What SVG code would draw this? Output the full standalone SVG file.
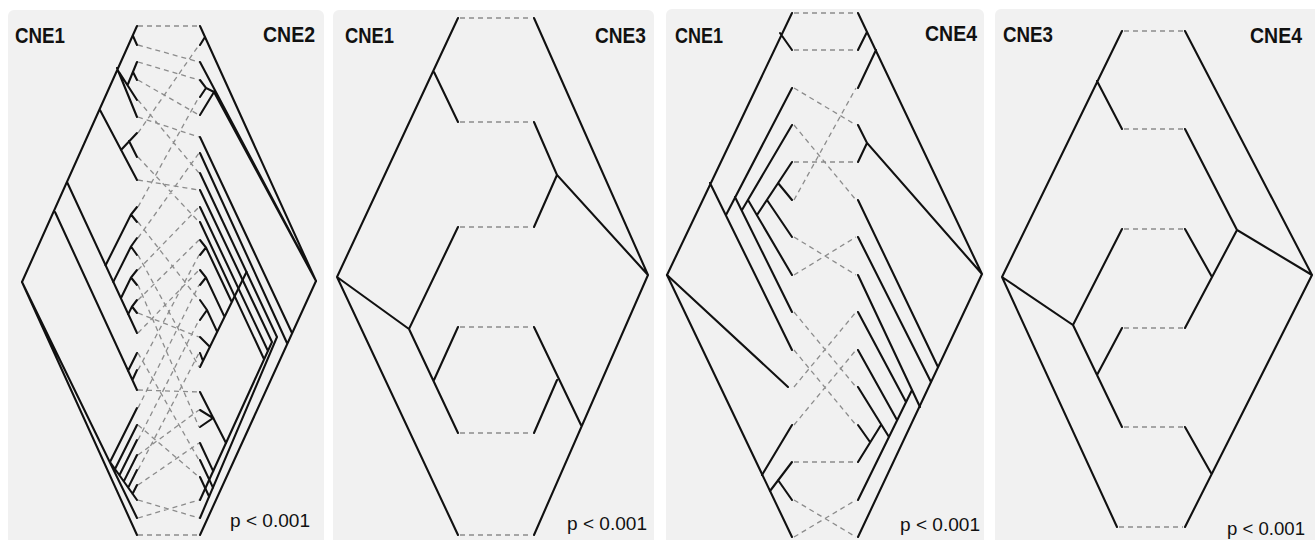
<svg xmlns="http://www.w3.org/2000/svg" width="1315" height="540" viewBox="0 0 1315 540">
<style>
.bg{fill:#f1f1f1}
.br{stroke:#111;stroke-width:2.1;fill:none;stroke-linecap:round}
.cn{stroke:#8c8c8c;stroke-width:1.3;stroke-dasharray:5 4;fill:none}
.lab{font-family:"Liberation Sans",Arial,sans-serif;font-weight:bold;font-size:22px;fill:#111}
.p{font-family:"Liberation Sans",Arial,sans-serif;font-size:18px;fill:#111}
</style>
<rect width="1315" height="540" fill="#fff"/>
<g id="panel1">
<rect class="bg" x="8" y="10" width="316" height="540" rx="6"/>
<text class="lab" x="15" y="43" textLength="50" lengthAdjust="spacingAndGlyphs">CNE1</text>
<text class="lab" x="263" y="42" textLength="52" lengthAdjust="spacingAndGlyphs">CNE2</text>
<text class="p" x="230" y="527" textLength="80" lengthAdjust="spacingAndGlyphs">p &lt; 0.001</text>
<g class="br">
<path d="M22,282 L137,26 M133,36 L137,45 M117,68 L137,117 M119,72 L137,100 M128,84 L137,62 M133,72 L137,80 M100,110 L137,180 M121,150 L137,133 M129,141 L137,157 M67,182 L137,333"/>
<path d="M105.6,265.3 L131,214.5 L137,207 M131,214.5 L137,222 M113.3,281.9 L131,246.5 L137,238 M131,246.5 L137,255 M121,298 L131,277.5 L137,270 M131,277.5 L137,285 M128.2,314.1 L132,306.5 L137,300 M132,306.5 L137,313"/>
<path d="M55,212 L137,390 M128,371 L137,353 M132.4,380 L137,370 M22,282 L137,518 M22,282 L137,535 M110,462 L137,408 M110,462 L137,500 M115,469 L137,425 M119.4,475.2 L137,440 M123.8,481.4 L137,455 M128.2,487.6 L137,470 M132.6,493.8 L137,485"/>
<path d="M316,281 L200,26 M205,37 L200,45 M316,281 L200,62 M316,281 L214,92 L200,115 M214,92 L206,88 L200,80 M206,88 L200,97"/>
<path d="M200,137 L292,333 M200,153 L287,343 M200,173 L277,337 L200,518 M200,190 L272,342 L200,500 M200,207 L268,351 M200,222 L264,359 M316,281 L200,535"/>
<path d="M246.5,272 L200,367 M210,347 L200,337 M203,361 L200,353 M231.6,301.8 L206,247.5 L200,240 M206,247.5 L200,255 M224.4,316.6 L206,277.5 L200,270 M206,277.5 L200,285 M217.1,331.6 L207,310 L200,300 M207,310 L200,320"/>
<path d="M200,392 L226,443 M200,410 L213,418 L200,427 M200,443 L213.2,471.1 M200,460 L213,487.6 M200,477 L209.1,496.5"/>
</g>
<g class="cn">
<path d="M138,26 L199,26 M138,45 L199,62 M138,62 L199,80 M138,80 L199,115 M138,100 L199,173 M138,117 L199,137 M138,133 L199,45 M138,157 L199,222 M138,180 L199,190 M138,207 L199,97 M138,222 L199,300 M138,238 L199,153 M138,255 L199,367 M138,270 L199,207 M138,285 L199,427"/>
<path d="M138,300 L199,240 M138,313 L199,337 M138,333 L199,270 M138,353 L199,460 M138,370 L199,255 M138,390 L199,392 M138,408 L199,285 M138,425 L199,477 M138,440 L199,320 M138,455 L199,410 M138,470 L199,353 M138,485 L199,443 M138,500 L199,518 M138,518 L199,500 M138,535 L199,535"/>
</g>
</g>
<g id="panel2">
<rect class="bg" x="333" y="10" width="321" height="540" rx="6"/>
<text class="lab" x="345" y="43" textLength="49" lengthAdjust="spacingAndGlyphs">CNE1</text>
<text class="lab" x="595" y="43" textLength="51" lengthAdjust="spacingAndGlyphs">CNE3</text>
<text class="p" x="567" y="530" textLength="80" lengthAdjust="spacingAndGlyphs">p &lt; 0.001</text>
<g class="br">
<path d="M458,18 L337,277 L458,535 M434,72 L458,122 M337,277 L409,329 L458,227 M409,329 L458,433 M434,380 L458,327"/>
<path d="M534,18 L648,275 L534,535 M648,275 L557,175 L534,122 M557,175 L534,227 M581,425 L534,327 M557,380 L534,433"/>
</g>
<g class="cn">
<path d="M460,18 H532 M460,122 H532 M460,227 H532 M460,327 H532 M460,433 H532 M460,535 H532"/>
</g>
</g>
<g id="panel3">
<rect class="bg" x="666" y="9" width="318" height="540" rx="6"/>
<text class="lab" x="675" y="43" textLength="48" lengthAdjust="spacingAndGlyphs">CNE1</text>
<text class="lab" x="925" y="41" textLength="52" lengthAdjust="spacingAndGlyphs">CNE4</text>
<text class="p" x="900" y="531" textLength="80" lengthAdjust="spacingAndGlyphs">p &lt; 0.001</text>
<g class="br">
<path d="M792,13 L667,275 L792,537 M780,33 L792,50 M710,183 L792,350 M726,215 L792,88 M735,197 L792,312 M742,210 L792,125 M748,200 L792,275 M757,215 L792,162 M767,200 L792,237 M778,183 L792,200"/>
<path d="M667,275 L788,387 M762,475 L792,425 M770,491 L792,462 M778,480 L792,500"/>
<path d="M858,13 L982,274 L858,537 M867,32 L858,50 M876,50 L858,88 M982,274 L867,143 L858,125 M867,143 L858,162"/>
<path d="M858,200 L938,367 M858,237 L931,382 M858,275 L920,407 M858,500 L912,390 M858,312 L906,402 M858,350 L897,420 M858,387 L889,437 M858,462 L881,425 M858,425 L870,442"/>
</g>
<g class="cn">
<path d="M794,13 H856 M794,50 H856 M794,88 L856,125 M794,125 L856,200 M794,162 H856 M794,200 L856,88 M794,237 L856,275 M794,275 L856,237 M794,312 L856,387 M794,350 L856,425 M794,387 L856,312 M794,425 L856,350 M794,462 H856 M794,500 L856,537 M794,537 L856,500"/>
</g>
</g>
<g id="panel4">
<rect class="bg" x="995" y="9" width="325" height="540" rx="6"/>
<text class="lab" x="1003" y="42" textLength="50" lengthAdjust="spacingAndGlyphs">CNE3</text>
<text class="lab" x="1250" y="43" textLength="52" lengthAdjust="spacingAndGlyphs">CNE4</text>
<text class="p" x="1227" y="535" textLength="78" lengthAdjust="spacingAndGlyphs">p &lt; 0.001</text>
<g class="br">
<path d="M1122,31 L1002,277 L1117,527 M1097,81 L1122,129 M1002,277 L1073,325 L1122,229 M1073,325 L1122,427 M1097,375 L1122,328"/>
<path d="M1185,31 L1312,275 L1185,527 M1312,275 L1237,230 L1185,129 M1237,230 L1185,328 M1212,277 L1185,229 M1211,473 L1185,427"/>
</g>
<g class="cn">
<path d="M1124,31 H1183 M1124,129 H1183 M1124,229 H1183 M1124,328 H1183 M1124,427 H1183 M1119,527 H1183"/>
</g>
</g>
</svg>
